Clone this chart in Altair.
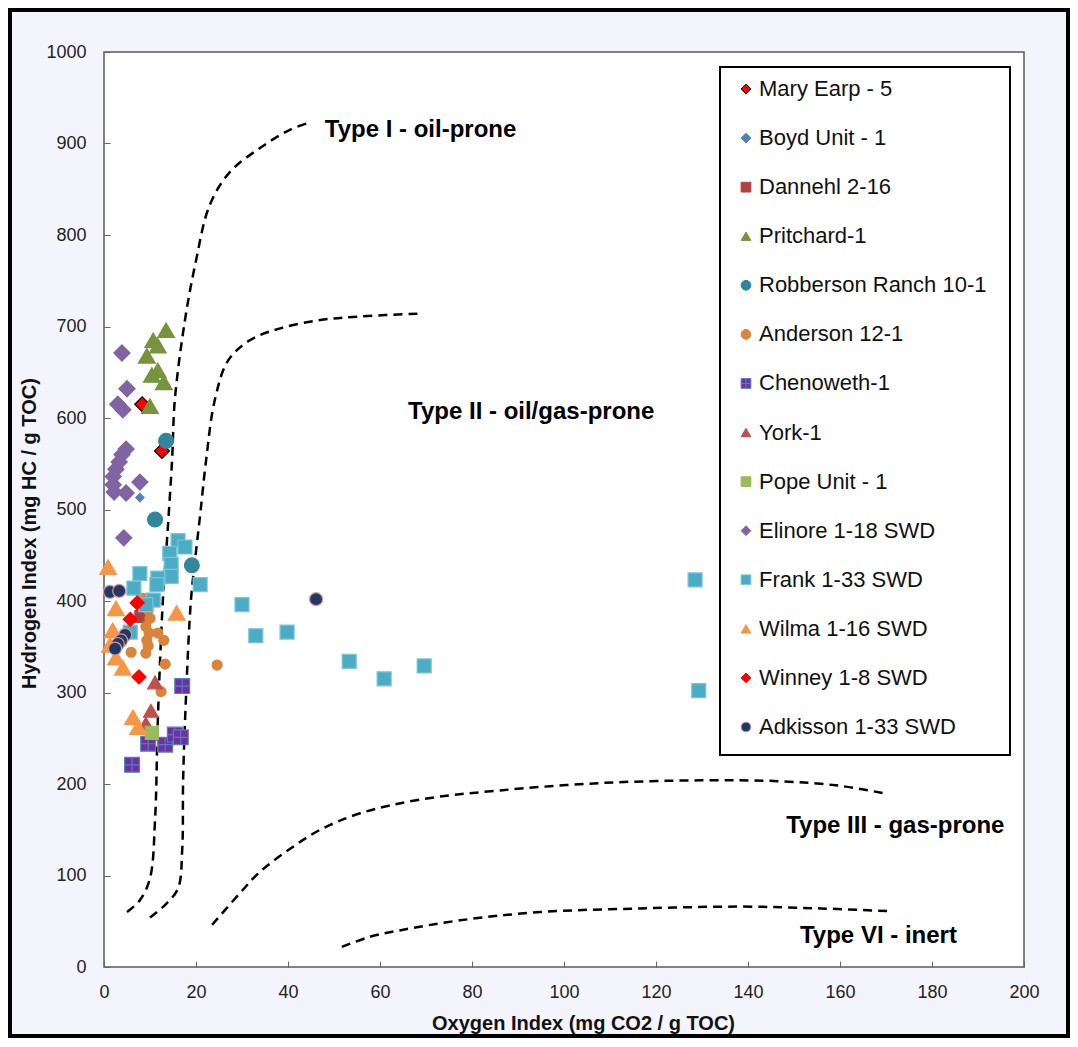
import altair as alt
import pandas as pd

series = ["Mary Earp - 5", "Boyd Unit - 1", "Dannehl 2-16", "Pritchard-1",
          "Robberson Ranch 10-1", "Anderson 12-1", "Chenoweth-1", "York-1",
          "Pope Unit - 1", "Elinore 1-18 SWD", "Frank 1-33 SWD", "Wilma 1-16 SWD",
          "Winney 1-8 SWD", "Adkisson 1-33 SWD"]

fills = ["#ff0000", "#4f81bd", "#b0413e", "#77933c", "#31859c", "#d9843b", "#7030a0",
         "#c0504d", "#9bbb59", "#8064a2", "#4bacc6", "#f79646", "#ff0000", "#1f3864"]
strokes = ["#000000", "#4f81bd", "#b0413e", "#77933c", "#31859c", "#d9843b", "#4f81bd",
           "#c0504d", "#9bbb59", "#8064a2", "#7cc3d6", "#f79646", "#ff0000", "#d99594"]
grid_square = "M-1,-1H1V1H-1Z M0,-1V1 M-1,0H1"
shapes = ["diamond", "diamond", "square", "triangle-up", "circle", "circle", grid_square,
          "triangle-up", "square", "diamond", "square", "triangle-up", "diamond", "circle"]
sizes = [220, 70, 140, 280, 220, 100, 220, 220, 170, 260, 196, 280, 200, 170]

mary_x = [8.3, 12.6]
mary_y = [615, 564]
boyd_x = [7.8]
boyd_y = [513]
dannehl_x = [8.0]
dannehl_y = [383]
pritchard_x = [13.5, 10.7, 11.7, 9.3, 10.4, 11.7, 13.0, 10.0]
pritchard_y = [696, 685, 679, 668, 647, 652, 639, 613]
robberson_x = [13.5, 11.1, 19.1]
robberson_y = [575, 489, 439]
anderson_x = [8.5, 9.6, 10.0, 9.1, 9.8, 9.3, 9.6, 5.9, 9.1, 11.7, 13.0, 13.3, 12.4, 24.6]
anderson_y = [403, 390, 381, 372, 365, 357, 351, 344, 343, 365, 357, 331, 301, 330]
chenoweth_x = [17.0, 6.1, 9.6, 13.3, 15.4, 16.7]
chenoweth_y = [307, 221, 244, 243, 254, 251]
york_x = [11.1, 10.2, 9.1]
york_y = [311, 280, 266]
pope_x = [10.4]
pope_y = [256]
elinore_x = [3.9, 5.0, 3.0, 4.1, 4.8, 3.9, 3.3, 2.6, 2.0, 2.0, 2.2, 4.8, 7.8, 4.3]
elinore_y = [671, 632, 615, 609, 566, 560, 552, 544, 536, 527, 519, 518, 530, 469]
frank_x = [16.1, 17.6, 14.3, 14.6, 14.6, 20.9, 11.7, 11.5, 7.8, 6.5, 10.7, 9.1, 5.7,
           30.0, 33.0, 39.8, 53.3, 60.9, 69.6, 128.5, 129.3]
frank_y = [466, 459, 452, 440, 427, 418, 425, 418, 430, 414, 401, 396, 366,
           396, 362, 366, 334, 315, 329, 423, 302]
wilma_x = [0.9, 2.6, 1.9, 1.3, 2.6, 4.1, 6.3, 7.4, 15.8]
wilma_y = [437, 392, 368, 352, 338, 327, 273, 262, 387]
winney_x = [7.2, 5.7, 7.6]
winney_y = [398, 380, 317]
adkisson_x = [1.3, 3.3, 4.6, 3.7, 3.0, 2.4, 46.1]
adkisson_y = [410, 411, 363, 357, 353, 348, 402]

all_x = [mary_x, boyd_x, dannehl_x, pritchard_x, robberson_x, anderson_x, chenoweth_x,
         york_x, pope_x, elinore_x, frank_x, wilma_x, winney_x, adkisson_x]
all_y = [mary_y, boyd_y, dannehl_y, pritchard_y, robberson_y, anderson_y, chenoweth_y,
         york_y, pope_y, elinore_y, frank_y, wilma_y, winney_y, adkisson_y]

rows = []
for name, xs, ys in zip(series, all_x, all_y):
    for xv, yv in zip(xs, ys):
        rows.append({"series": name, "oi": xv, "hi": yv})
pts = pd.DataFrame(rows)

# Kerogen type boundary curves
type1_x = [5.0, 7.8, 10.0, 11.1, 11.7, 12.8, 13.7, 14.8, 15.4, 17.6, 19.8, 23.0, 27.4, 33.9, 40.4, 44.8]
type1_y = [60, 73, 97, 161, 270, 401, 467, 554, 620, 707, 767, 833, 869, 895, 915, 923]
type2_x = [10.0, 13.3, 16.1, 17.0, 17.2, 17.8, 18.9, 19.8, 20.9, 22.2, 24.1, 27.0, 31.7, 38.3, 47.0, 55.7, 68.3]
type2_y = [54, 68, 86, 128, 204, 292, 401, 445, 494, 554, 620, 663, 685, 698, 707, 711, 714]
type3_x = [23.5, 29.6, 33.9, 40.4, 47.0, 55.7, 68.7, 86.1, 107.8, 129.6, 147.0, 160.0, 170.4]
type3_y = [46, 81, 104, 129, 150, 168, 183, 193, 201, 204, 203, 198, 189]
type4_x = [51.7, 57.8, 64.3, 77.4, 94.8, 116.5, 138.3, 155.7, 170.9]
type4_y = [22, 33, 40, 51, 60, 64, 66, 64, 61]

crows = []
for cname, xs, ys in [("I", type1_x, type1_y), ("II", type2_x, type2_y),
                      ("III", type3_x, type3_y), ("VI", type4_x, type4_y)]:
    for i, (xv, yv) in enumerate(zip(xs, ys)):
        crows.append({"curve": cname, "idx": i, "oi": xv, "hi": yv})
curves = pd.DataFrame(crows)

label_text = ["Type I - oil-prone", "Type II - oil/gas-prone", "Type III - gas-prone", "Type VI - inert"]
label_x = [48.0, 66.1, 148.3, 151.3]
label_y = [915, 607, 154, 34]
labels = pd.DataFrame({"text": label_text, "oi": label_x, "hi": label_y})

legend_df = pd.DataFrame({"series": series})

FONT = "Liberation Sans"

xscale = alt.Scale(domain=[0, 200], nice=False, zero=True)
yscale = alt.Scale(domain=[0, 1000], nice=False, zero=True)
fill_scale = alt.Scale(domain=series, range=fills)
stroke_scale = alt.Scale(domain=series, range=strokes)
shape_scale = alt.Scale(domain=series, range=shapes)
# legend rows laid out by a point scale over the plot's pixel space
legend_y = alt.Y("series:N", scale=alt.Scale(type="point", domain=series, range=[37, 675], padding=0), axis=None)

xaxis = alt.Axis(values=list(range(0, 201, 20)), title="Oxygen Index (mg CO2 / g TOC)",
                 grid=False, domain=False, offset=-6, tickSize=6, labelPadding=16,
                 titlePadding=12, format="d", titleX=479, labelFlush=False)
yaxis = alt.Axis(values=list(range(0, 1001, 100)), title="Hydrogen Index (mg HC / g TOC)",
                 grid=False, domain=False, offset=-6, tickSize=6, labelPadding=18,
                 titlePadding=6, format="d", titleY=481, labelFlush=False)

one = pd.DataFrame({"a": [0]})

frame = alt.Chart(one).mark_rect(
    fillOpacity=0, stroke="#000000", strokeWidth=4
).encode(x=alt.value(-94), x2=alt.value(964), y=alt.value(-42), y2=alt.value(984))

lines = alt.Chart(curves).mark_line(
    color="#000000", strokeWidth=2.5, strokeDash=[9, 6], interpolate="catmull-rom"
).encode(
    x=alt.X("oi:Q", scale=xscale, axis=xaxis),
    y=alt.Y("hi:Q", scale=yscale, axis=yaxis),
    detail="curve:N",
    order="idx:Q",
)

points = alt.Chart(pts).mark_point(filled=True, opacity=1, strokeWidth=1.2).encode(
    x=alt.X("oi:Q", scale=xscale),
    y=alt.Y("hi:Q", scale=yscale, axis=None),
    fill=alt.Fill("series:N", scale=fill_scale, legend=None),
    stroke=alt.Stroke("series:N", scale=stroke_scale, legend=None),
    shape=alt.Shape("series:N", scale=shape_scale, legend=None),
    size=alt.Size("series:N", scale=alt.Scale(type="ordinal", domain=series, range=sizes), legend=None),
)

texts = alt.Chart(labels).mark_text(
    align="left", baseline="middle", fontWeight="bold", fontSize=24, font=FONT, color="#000000"
).encode(
    x=alt.X("oi:Q", scale=xscale),
    y=alt.Y("hi:Q", scale=yscale, axis=None),
    text="text:N",
)

legend_box = alt.Chart(one).mark_rect(
    fill="#ffffff", stroke="#000000", strokeWidth=2
).encode(x=alt.value(616), x2=alt.value(906), y=alt.value(15), y2=alt.value(703))

legend_symbols = alt.Chart(legend_df).mark_point(filled=True, opacity=1, strokeWidth=1, size=95).encode(
    x=alt.value(642),
    y=legend_y,
    fill=alt.Fill("series:N", scale=fill_scale, legend=None),
    stroke=alt.Stroke("series:N", scale=stroke_scale, legend=None),
    shape=alt.Shape("series:N", scale=shape_scale, legend=None),
)

legend_labels = alt.Chart(legend_df).mark_text(
    align="left", baseline="middle", fontSize=22, font=FONT, color="#111111"
).encode(
    x=alt.value(655),
    y=legend_y,
    text="series:N",
)

chart = alt.layer(frame, lines, points, texts, legend_box, legend_symbols, legend_labels).resolve_scale(
    y="independent"
).properties(
    width=920, height=915,
    padding={"left": 96, "top": 44, "right": 46, "bottom": 71},
    autosize=alt.AutoSizeParams(type="none"),
).configure(
    background="#f4f4fc", font=FONT
).configure_view(
    fill="#ffffff", stroke="#595959", strokeWidth=1.5
).configure_axis(
    labelFont=FONT, labelFontSize=18, labelColor="#222222",
    titleFont=FONT, titleFontSize=20, titleFontWeight="bold", titleColor="#111111",
    tickColor="#666666", tickWidth=1,
)

chart.save("out.html", embed_options={"renderer": "svg", "actions": False})
